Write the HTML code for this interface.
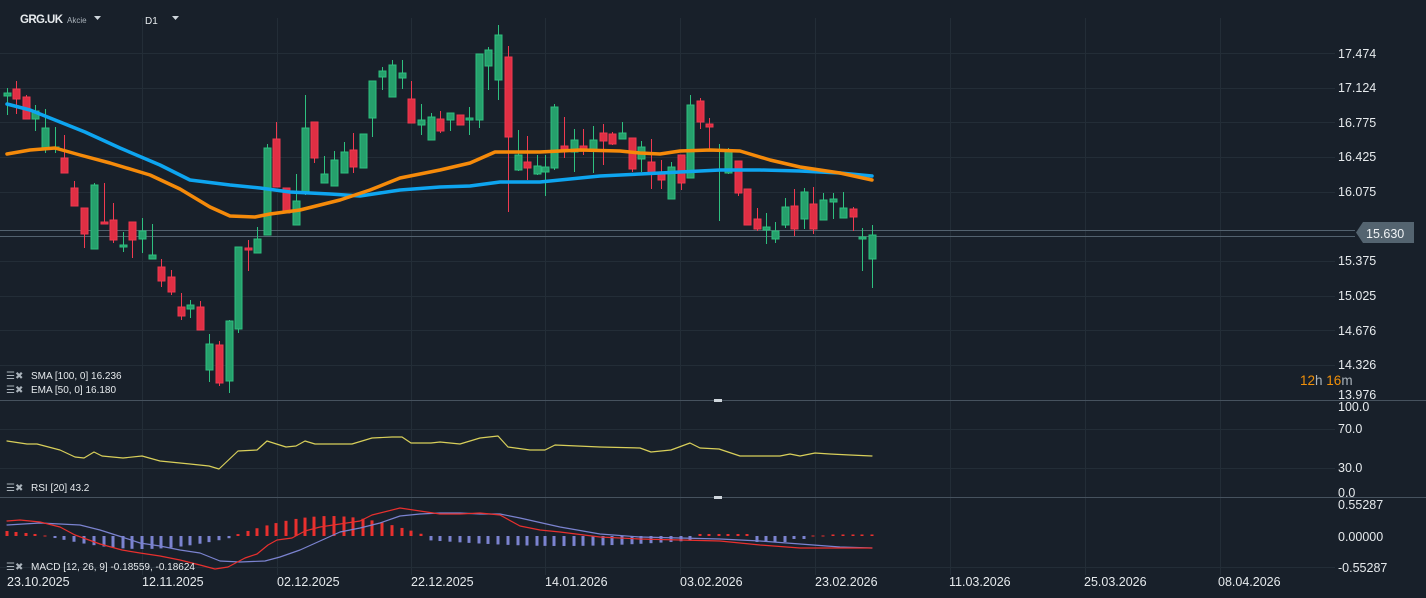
<!DOCTYPE html>
<html><head><meta charset="utf-8"><style>
html,body{margin:0;padding:0;background:#18202a;}
svg{display:block;font-family:"Liberation Sans",sans-serif;}
</style></head><body>
<svg id="s" width="1426" height="598" viewBox="0 0 1426 598" xmlns="http://www.w3.org/2000/svg">
<rect width="1426" height="598" fill="#18202a"/>
<g id="grid" stroke="#232d37" stroke-width="1"></g>
<line x1="0" y1="230.5" x2="1355" y2="230.5" stroke="#52616e"/>
<line x1="0" y1="236.5" x2="1355" y2="236.5" stroke="#52616e"/>
<g id="candles"></g>
<g id="lines" fill="none"></g>
<line x1="0" y1="400.5" x2="1426" y2="400.5" stroke="#46525e"/>
<line x1="0" y1="497.5" x2="1426" y2="497.5" stroke="#46525e"/>
<rect x="714" y="399" width="8" height="3" fill="#cfd6dc"/>
<rect x="714" y="496" width="8" height="3" fill="#cfd6dc"/>
<g fill="#e6eaed" font-size="12">
<text x="20" y="23" font-weight="bold" font-size="11.5" textLength="43">GRG.UK</text>
<text x="67" y="23" font-size="8" fill="#aab3bb">Akcie</text>
<text x="145" y="24" font-size="10">D1</text>
</g>
<path d="M94 16h7l-3.5 4z M172 16h7l-3.5 4z" fill="#cfd6dc"/>
<g fill="#e6eaed" font-size="12.5" id="axis">
<text x="1338" y="58">17.474</text>
<text x="1338" y="92">17.124</text>
<text x="1338" y="127">16.775</text>
<text x="1338" y="161">16.425</text>
<text x="1338" y="196">16.075</text>
<text x="1338" y="265">15.375</text>
<text x="1338" y="300">15.025</text>
<text x="1338" y="335">14.676</text>
<text x="1338" y="369">14.326</text>
<text x="1338" y="399">13.976</text>
<text x="1338" y="411">100.0</text>
<text x="1338" y="433">70.0</text>
<text x="1338" y="472">30.0</text>
<text x="1338" y="497">0.0</text>
<text x="1338" y="509">0.55287</text>
<text x="1338" y="541">0.00000</text>
<text x="1338" y="572">-0.55287</text>
</g>
<path d="M1363 222h51v21h-51l-7-10.5z" fill="#546470"/>
<text x="1366" y="238" fill="#f0f3f5" font-size="12.5">15.630</text>
<text x="1300" y="385" font-size="13.5" fill="#f0900a">12<tspan fill="#aab3bb">h </tspan>16<tspan fill="#aab3bb">m</tspan></text>
<g fill="#e6eaed" font-size="12.5">
<text x="7" y="586">23.10.2025</text><text x="142" y="586">12.11.2025</text><text x="277" y="586">02.12.2025</text>
<text x="411" y="586">22.12.2025</text><text x="545" y="586">14.01.2026</text><text x="680" y="586">03.02.2026</text>
<text x="815" y="586">23.02.2026</text><text x="949" y="586">11.03.2026</text><text x="1084" y="586">25.03.2026</text>
<text x="1218" y="586">08.04.2026</text>
</g>
<g fill="#e6eaed" font-size="10">
<text x="31" y="379">SMA  [100,  0]  16.236</text>
<text x="31" y="393">EMA  [50,  0]  16.180</text>
<text x="31" y="491">RSI  [20]  43.2</text>
<text x="31" y="570">MACD  [12,  26,  9]  -0.18559,  -0.18624</text>
<g fill="#aab3bb" font-size="10">
<text x="6" y="379">☰✖</text><text x="6" y="393">☰✖</text><text x="6" y="491">☰✖</text><text x="6" y="570">☰✖</text>
</g>
</g>
</svg>
<script>
var NS="http://www.w3.org/2000/svg";
function el(p,t,a){var e=document.createElementNS(NS,t);for(var k in a)e.setAttribute(k,a[k]);p.appendChild(e);return e;}
var g=document.getElementById('grid');
[53,88,122,157,192,261,296,330,365,429,468,567].forEach(function(y){el(g,'line',{x1:0,x2:1335,y1:y+.5,y2:y+.5});});
[142,277,411,545,680,815,950,1085,1220].forEach(function(x){el(g,'line',{x1:x+.5,x2:x+.5,y1:18,y2:575});});
var C=[[7,93,96,88,115,'g'],[16,89,99,81,114,'r'],[26,97,119,95,119,'r'],[35,111,119,105,131,'g'],[45,128,148,109,153,'g'],[55,147,148,127,153,'g'],[64,158,173,135,173,'r'],[74,188,206,181,206,'r'],[84,208,234,208,248,'r'],[94,185,249,183,249,'g'],[104,222,224,183,224,'r'],[113,220,240,203,243,'r'],[123,245,247,232,252,'g'],[132,222,240,222,258,'r'],[142,231,239,218,253,'g'],[152,255,259,224,259,'g'],[161,267,281,259,287,'r'],[171,277,292,270,295,'r'],[181,307,316,293,320,'r'],[190,305,309,300,318,'g'],[200,307,330,301,330,'r'],[209,344,370,334,382,'g'],[219,345,383,341,386,'r'],[229,321,381,320,393,'g'],[238,247,329,247,333,'g'],[248,248,250,240,271,'r'],[257,239,253,227,253,'g'],[267,148,235,144,235,'g'],[276,139,187,122,187,'r'],[286,188,213,188,213,'r'],[296,201,225,174,225,'g'],
[305,128,192,95,195,'g'],[314,122,158,122,163,'r'],[324,174,183,156,183,'g'],[334,160,186,151,186,'g'],[344,152,173,142,173,'g'],[353,150,167,133,173,'r'],[363,134,168,134,168,'g'],[372,81,118,81,137,'g'],[382,71,77,67,90,'g'],[392,65,97,60,97,'g'],[402,73,78,60,89,'g'],[411,99,123,81,123,'r'],[421,120,125,104,135,'g'],[431,117,140,113,140,'g'],[440,119,131,111,133,'r'],[450,113,120,113,131,'g'],[460,115,125,115,125,'r'],[469,118,120,107,135,'g'],[479,54,120,54,128,'g'],[488,50,66,47,90,'g'],[498,35,80,25,100,'g'],[508,57,137,46,212,'r'],[518,155,170,130,171,'g'],[527,162,168,136,180,'r'],[537,166,174,155,175,'g'],[545,167,172,155,196,'g'],[554,107,168,104,170,'g'],[564,146,149,117,158,'r'],[574,140,152,129,172,'g'],
[583,146,150,129,155,'r'],[593,140,150,126,173,'g'],[603,133,141,124,165,'r'],[612,134,144,132,145,'r'],[622,133,139,122,139,'g'],[632,138,169,138,172,'r'],[641,147,159,141,172,'g'],[651,162,173,139,189,'r'],[661,172,180,160,189,'r'],[671,167,199,162,199,'g'],[681,155,183,155,190,'r'],[690,105,178,95,178,'g'],[700,101,122,98,129,'r'],[709,124,127,118,150,'r'],[719,169,170,144,221,'g'],[728,150,173,148,174,'g'],[738,161,193,161,196,'r'],[747,189,225,189,225,'r'],[757,219,229,208,231,'r'],[766,227,230,213,244,'g'],[775,231,239,222,243,'g'],[785,207,225,198,228,'g'],[794,206,229,189,236,'r'],[804,192,219,188,229,'g'],[813,204,229,187,234,'r'],[823,200,220,193,220,'g'],[833,199,202,193,219,'g'],[843,208,218,192,218,'g'],[853,209,217,207,231,'r'],[862,237,239,228,271,'g'],[872,235,259,225,288,'g']];
var cg=document.getElementById('candles');
C.forEach(function(c){var col=c[5]=='g'?'#26a06c':'#e02f44',st=c[5]=='g'?'#2ec07f':'#f03a50';
el(cg,'line',{x1:c[0]+.5,x2:c[0]+.5,y1:c[3],y2:c[4],stroke:st,'stroke-width':1});
var t=Math.min(c[1],c[2]),h=Math.max(2,Math.abs(c[2]-c[1]));
el(cg,'rect',{x:c[0]-3,y:t,width:7,height:h,fill:col,stroke:st,'stroke-width':1});});
var L=document.getElementById('lines');
function pl(pts,col,w){el(L,'polyline',{points:pts.map(function(p){return p.join(',')}).join(' '),stroke:col,'stroke-width':w,'stroke-linejoin':'round','stroke-linecap':'round'});}
pl([[7,104],[30,110],[55,120],[85,132],[120,148],[160,165],[190,180],[230,185],[260,188],[290,192],[330,194],[360,196],[400,190],[440,187],[470,186],[500,182],[540,182],[600,176],[640,174],[680,172],[720,170],[760,170],[800,171],[840,173],[872,176]],'#0ea5f0',3.5);
pl([[7,154],[30,150],[55,148],[80,155],[110,163],[150,175],[180,189],[210,207],[230,216],[255,217],[270,214],[300,210],[340,200],[370,190],[400,178],[440,170],[470,163],[495,152],[540,152],[580,150],[620,151],[640,153],[660,154],[680,151],[710,150],[740,151],[770,160],[800,167],[840,173],[872,180]],'#f58a0a',3.5);
pl([[7,441],[27,444],[37,444],[60,450],[75,457],[84,458],[94,452],[102,456],[123,458],[142,456],[160,461],[180,463],[190,464],[209,466],[219,469],[238,451],[257,450],[267,441],[286,447],[296,446],[305,441],[315,444],[334,444],[352,444],[372,438],[392,437],[402,437],[411,443],[431,443],[440,442],[460,444],[480,438],[498,436],[508,447],[530,450],[545,450],[555,445],[600,447],[640,448],[651,452],[671,450],[690,443],[700,448],[719,449],[740,456],[780,456],[790,454],[800,456],[815,453],[830,454],[850,455],[872,456]],'#d8cf5a',1.2);
C.forEach(function(c,i){var x=c[0],v;
if(x<50)v=[5,4,3,2,0.5][Math.min(4,i)];
else if(x<235){v=-Math.sin((x-50)/185*Math.PI)*12-1;}
else if(x<425){v=Math.sin((x-235)/190*Math.PI)*19+1;}
else if(x<700){v=-(4+Math.sin((x-425)/275*Math.PI)*6);}
else if(x<755)v=2;
else if(x<810)v=-(x<790?6:3);
else if(x>830)v=1.5; else v=0.5;
el(L,'rect',{x:x-1.5,y:v>0?536-v:536,width:3,height:Math.max(1,Math.abs(v)),fill:v>0?'#e8302e':'#7b83d0'});});
pl([[7,525],[40,523],[80,525],[100,530],[122,537],[140,543],[160,546],[180,550],[200,553],[220,561],[240,562],[265,561],[280,557],[300,550],[320,541],[340,532],[360,528],[380,523],[400,516],[420,514],[440,513],[460,513],[480,514],[500,514],[520,518],[560,527],[600,534],[640,537],[680,538],[720,539],[760,541],[800,544],[840,547],[872,548]],'#7b83d0',1.2);
pl([[7,521],[20,520],[40,522],[60,527],[75,535],[100,544],[122,550],[140,553],[160,556],[180,560],[200,565],[215,569],[228,567],[245,558],[257,554],[268,545],[277,540],[292,538],[305,531],[320,527],[340,524],[360,521],[372,515],[400,508],[420,511],[440,514],[460,514],[480,513],[500,515],[520,526],[540,530],[560,532],[600,537],[640,539],[680,540],[720,541],[760,545],[800,548],[840,548],[872,548]],'#e8302e',1.2);
</script>
</body></html>
